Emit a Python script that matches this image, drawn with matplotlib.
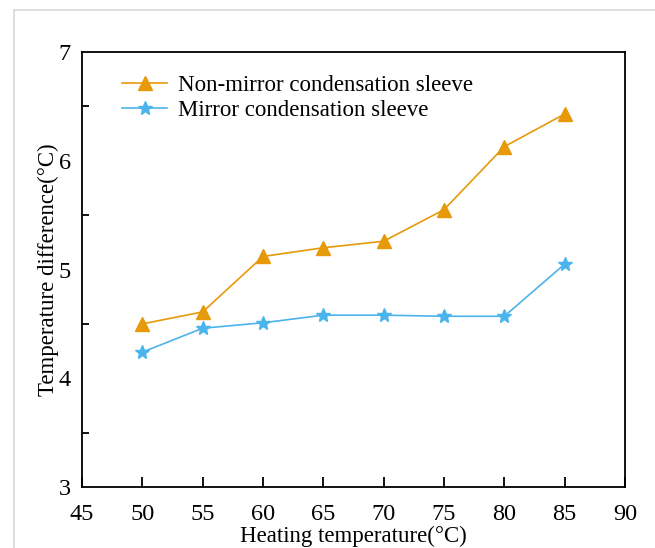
import numpy as np
import matplotlib.pyplot as plt
from matplotlib.patches import Rectangle
from matplotlib.ticker import MultipleLocator

heating_temp = [50, 55, 60, 65, 70, 75, 80, 85]
non_mirror = [4.50, 4.61, 5.12, 5.20, 5.26, 5.55, 6.13, 6.43]
mirror = [4.24, 4.46, 4.51, 4.58, 4.58, 4.57, 4.57, 5.05]

plt.rcParams['font.family'] = ['Liberation Serif', 'DejaVu Serif']
plt.rcParams['font.size'] = 16

fig = plt.figure(figsize=(6.55, 5.48), dpi=100)
ax = fig.add_axes([82 / 655, 1 - 487 / 548, (625 - 82) / 655, (487 - 52) / 548])

# faint frame around the picture
fig.patches.append(Rectangle((14 / 655, -0.01), 1.0, 1 - 10 / 548 + 0.01,
                             transform=fig.transFigure, fill=False,
                             edgecolor='#d8d8d8', linewidth=1.2))

ax.plot(heating_temp, non_mirror, color='#E69A0A', lw=1.2, marker='^',
        markersize=10, label='Non-mirror condensation sleeve')
ax.plot(heating_temp, mirror, color='#4BB4EC', lw=1.2, marker='*',
        markersize=10, label='Mirror condensation sleeve')

ax.set_xlim(45, 90)
ax.set_ylim(3, 7)
ax.xaxis.set_major_locator(MultipleLocator(5))
ax.yaxis.set_major_locator(MultipleLocator(1))
ax.yaxis.set_minor_locator(MultipleLocator(0.5))
ax.tick_params(axis='both', which='major', labelsize=17.5)
ax.tick_params(axis='x', which='major', direction='in', length=7, width=1.3, pad=12)
ax.tick_params(axis='y', which='major', length=0, pad=8)
ax.tick_params(axis='y', which='minor', direction='in', length=5, width=1.3)
ax.tick_params(top=False, right=False)
for s in ax.spines.values():
    s.set_linewidth(1.3)

ax.set_xlabel('Heating temperature(°C)', fontsize=16.5, labelpad=1)
ax.set_ylabel('Temperature difference(°C)', fontsize=16.5, labelpad=0)

ax.legend(loc='upper left', bbox_to_anchor=(0.035, 0.995), frameon=False,
          fontsize=16.5, handlelength=2.0, handletextpad=0.45, labelspacing=0.2)

fig.savefig('out.png', dpi=100)
